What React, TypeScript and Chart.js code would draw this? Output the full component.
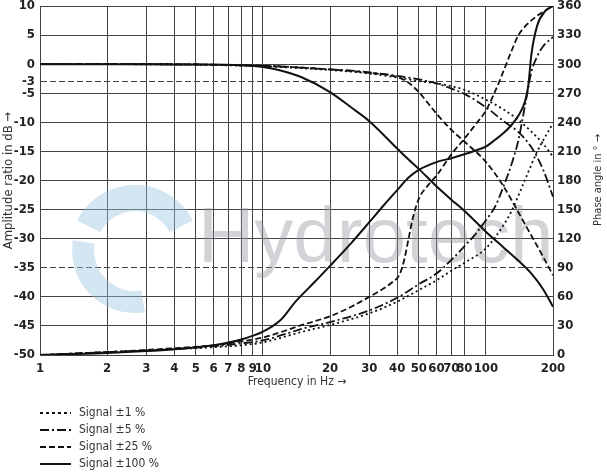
import React, { useEffect, useRef } from "react";
import { Chart, registerables } from "chart.js";

Chart.register(...registerables);

// ---------- axis ticks ----------
const freqTicks = [1, 2, 3, 4, 5, 6, 7, 8, 9, 10, 20, 30, 40, 50, 60, 70, 80, 100, 200];
const ampTicks = [10, 5, 0, -3, -5, -10, -15, -20, -25, -30, -35, -40, -45, -50];
const dashedLevels = [-3, -35];
const phaseTicks = [0, 30, 60, 90, 120, 150, 180, 210, 240, 270, 300, 330, 360];

// ---------- series labels ----------
const seriesLabels = ["Signal \u00b11 %", "Signal \u00b15 %", "Signal \u00b125 %", "Signal \u00b1100 %"];

// ---------- amplitude (dB) ----------
const ampFreq = [1, 2, 5, 8, 10, 12, 15, 20, 25, 30, 40, 45, 50, 60, 70, 80, 100, 120, 140, 160, 180, 200];
const amp1 = [0, 0, -0.1, -0.25, -0.35, -0.5, -0.7, -1.0, -1.3, -1.6, -2.3, -2.6, -2.9, -3.3, -3.8, -4.4, -6.1, -7.8, -9.6, -11.6, -13.6, -15.9];
const amp5 = [0, 0, -0.05, -0.2, -0.3, -0.4, -0.6, -0.9, -1.1, -1.4, -2.0, -2.3, -2.6, -3.3, -4.2, -5.1, -7.4, -9.8, -11.7, -14.3, -18.0, -22.8];
const amp25 = [0, 0, -0.05, -0.2, -0.3, -0.4, -0.6, -0.9, -1.2, -1.5, -2.2, -3.2, -4.8, -8.5, -11.3, -13.3, -16.8, -21.0, -25.5, -29.5, -33.0, -36.3];
const amp100 = [0, 0, -0.05, -0.2, -0.5, -1.1, -2.3, -4.8, -7.5, -9.8, -14.5, -16.4, -18.0, -21.0, -23.3, -25.2, -28.8, -31.5, -33.8, -36.0, -38.6, -41.7];

// ---------- phase (deg) ----------
const ph1Freq = [1, 2, 4, 6, 8, 10, 15, 20, 30, 40, 50, 60, 70, 80, 100, 120, 130, 150, 170, 200];
const ph1 = [0, 3, 6, 8, 10, 13, 24, 31, 43, 55, 67, 77, 87, 95, 110, 134, 148, 181, 210, 239];

const ph5Freq = [1, 2, 4, 6, 8, 10, 15, 20, 30, 40, 50, 60, 70, 80, 90, 100, 110, 120, 130, 140, 150, 160, 170, 180, 200];
const ph5 = [0, 3, 6, 9, 12, 15, 27, 34, 46, 59, 73, 84, 98, 112, 125, 139, 153, 174, 196, 222, 258, 292, 308, 318, 328];

const ph25Freq = [1, 2, 4, 6, 8, 10, 15, 20, 25, 30, 35, 38, 41, 43, 45, 47, 50, 55, 60, 70, 80, 90, 100, 110, 120, 130, 140, 150, 170, 200];
const ph25 = [0, 3, 7, 10, 14, 18, 31, 40, 50, 60, 69, 75, 83, 98, 120, 141, 161, 175, 185, 207, 223, 238, 252, 272, 293, 313, 330, 339, 350, 360];

const ph100Freq = [1, 2, 3, 4, 6, 8, 10, 12, 14, 17, 20, 25, 30, 35, 40, 45, 50, 60, 70, 80, 90, 100, 110, 120, 130, 140, 150, 155, 160, 170, 185, 200];
const ph100 = [0, 2, 4, 6, 10, 16, 24, 36, 55, 75, 92, 116, 137, 155, 170, 183, 191, 199, 203, 207, 211, 215, 222, 229, 237, 247, 262, 278, 310, 340, 355, 360];

const dashes: number[][] = [[2, 3], [9, 3, 2, 3], [6, 3], []];

const INK = "#111";
const GRID = "#444";
const TICK_FONT = { family: "'Liberation Sans Narrow', 'DejaVu Sans Condensed', sans-serif", size: 13, weight: "bold" as const };
const TEXT_FAMILY = "'Liberation Sans Narrow', 'DejaVu Sans Condensed', sans-serif";

function pts(xs: number[], ys: number[]) {
  return xs.map((x, i) => ({ x, y: ys[i] }));
}

const overlay = {
  id: "overlay",
  beforeDatasetsDraw(chart: any) {
    const ctx = chart.ctx as CanvasRenderingContext2D;
    ctx.save();
    // logo swirl (decorative watermark)
    ctx.strokeStyle = "rgba(150,195,225,0.42)";
    ctx.lineCap = "butt";
    ctx.lineWidth = 26;
    ctx.beginPath();
    ctx.arc(135, 250, 52, Math.PI * 1.15, Math.PI * 1.85);
    ctx.stroke();
    ctx.lineWidth = 22;
    ctx.beginPath();
    ctx.arc(135, 250, 52, Math.PI * 0.45, Math.PI * 1.05);
    ctx.stroke();
    // watermark text
    ctx.fillStyle = "rgba(150,150,160,0.42)";
    ctx.font = "78px 'Liberation Sans', Arial, sans-serif";
    ctx.textBaseline = "alphabetic";
    ctx.textAlign = "left";
    ctx.fillText("Hydrotech", 198, 262);
    ctx.restore();
  },
  afterDraw(chart: any) {
    const ctx = chart.ctx as CanvasRenderingContext2D;
    const area = chart.chartArea;
    ctx.save();
    ctx.fillStyle = "#333";
    ctx.textBaseline = "middle";
    ctx.textAlign = "center";
    // left title
    ctx.font = `13px ${TEXT_FAMILY}`;
    ctx.save();
    ctx.translate(9, (area.top + area.bottom) / 2);
    ctx.rotate(-Math.PI / 2);
    ctx.fillText("Amplitude ratio in dB \u2192", 0, 0);
    ctx.restore();
    // right title
    ctx.font = `11px ${TEXT_FAMILY}`;
    ctx.save();
    ctx.translate(598, 180);
    ctx.rotate(-Math.PI / 2);
    ctx.fillText("Phase angle in \u00b0 \u2192", 0, 0);
    ctx.restore();
    // bottom title
    ctx.font = `12px ${TEXT_FAMILY}`;
    ctx.fillText("Frequency in Hz \u2192", 297, 382);
    // legend
    const rows = [413, 430, 447, 464];
    seriesLabels.forEach((label, i) => {
      const y = rows[i];
      ctx.save();
      ctx.strokeStyle = INK;
      ctx.lineWidth = 2;
      ctx.setLineDash(i === 0 ? [3, 3] : dashes[i]);
      ctx.beginPath();
      ctx.moveTo(40, y);
      ctx.lineTo(71, y);
      ctx.stroke();
      ctx.restore();
      ctx.textAlign = "left";
      ctx.font = `12px ${TEXT_FAMILY}`;
      ctx.fillStyle = "#333";
      ctx.fillText(label, 79, y);
    });
    ctx.restore();
  },
};

export default function App() {
  const ref = useRef<HTMLCanvasElement | null>(null);

  useEffect(() => {
    document.body.style.margin = "0";
    const canvas = ref.current;
    if (!canvas) return;

    const ampSets = [amp1, amp5, amp25, amp100];
    const phSets = [
      [ph1Freq, ph1],
      [ph5Freq, ph5],
      [ph25Freq, ph25],
      [ph100Freq, ph100],
    ];
    const datasets: any[] = [];
    seriesLabels.forEach((label, i) => {
      datasets.push({
        label: label + " amplitude",
        data: pts(ampFreq, ampSets[i]),
        yAxisID: "y",
        borderColor: INK,
        borderWidth: i === 3 ? 2 : 1.8,
        borderDash: dashes[i],
        pointRadius: 0,
        cubicInterpolationMode: "monotone",
        fill: false,
      });
      datasets.push({
        label: label + " phase",
        data: pts(phSets[i][0], phSets[i][1]),
        yAxisID: "y2",
        borderColor: INK,
        borderWidth: i === 3 ? 2 : 1.8,
        borderDash: dashes[i],
        pointRadius: 0,
        cubicInterpolationMode: "monotone",
        fill: false,
      });
    });

    const chart = new Chart(canvas, {
      type: "line",
      data: { datasets },
      plugins: [overlay],
      options: {
        responsive: false,
        animation: false,
        parsing: true,
        layout: { padding: 0 },
        plugins: { legend: { display: false }, tooltip: { enabled: false } },
        scales: {
          x: {
            type: "logarithmic",
            min: 1,
            max: 200,
            position: "bottom",
            afterBuildTicks: (s: any) => {
              s.ticks = freqTicks.map((v) => ({ value: v }));
            },
            afterFit: (s: any) => {
              s.height = 117;
              s.paddingLeft = 0;
              s.paddingRight = 0;
            },
            ticks: {
              autoSkip: false,
              maxRotation: 0,
              minRotation: 0,
              padding: 6,
              color: "#222",
              font: TICK_FONT,
              callback: (v: any) => String(v),
            },
            grid: { color: GRID, lineWidth: 1, drawTicks: false },
            border: { color: GRID, width: 1 },
          },
          y: {
            type: "linear",
            min: -50,
            max: 10,
            position: "left",
            afterBuildTicks: (s: any) => {
              s.ticks = ampTicks.map((v) => ({ value: v }));
            },
            afterFit: (s: any) => {
              s.width = 40;
              s.paddingTop = 6;
              s.paddingBottom = 0;
            },
            ticks: { padding: 5, color: "#222", font: TICK_FONT, autoSkip: false },
            grid: { color: GRID, lineWidth: 1, drawTicks: false },
            border: {
              color: GRID,
              width: 1,
              dash: (c: any) => (c && c.tick && dashedLevels.includes(c.tick.value) ? [6, 3] : []),
            },
          },
          y2: {
            type: "linear",
            min: 0,
            max: 360,
            position: "right",
            afterBuildTicks: (s: any) => {
              s.ticks = phaseTicks.map((v) => ({ value: v }));
            },
            afterFit: (s: any) => {
              s.width = 54;
              s.paddingTop = 6;
              s.paddingBottom = 0;
            },
            ticks: { padding: 4, color: "#222", font: TICK_FONT, autoSkip: false },
            grid: { display: false, drawTicks: false },
            border: { color: GRID, width: 1 },
          },
        },
      } as any,
    });
    return () => chart.destroy();
  }, []);

  return <canvas ref={ref} width={607} height={472} style={{ display: "block" }} />;
}
